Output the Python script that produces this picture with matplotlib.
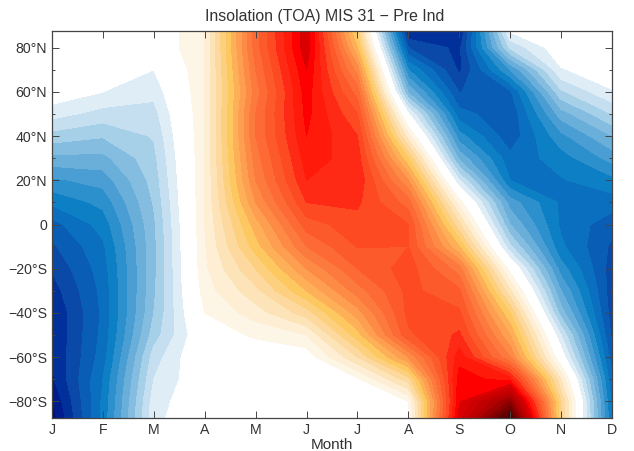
import numpy as np
import matplotlib
matplotlib.use('Agg')
import matplotlib.pyplot as plt

plt.rcParams['font.family'] = ['Liberation Sans', 'DejaVu Sans']

month_labels = ['J', 'F', 'M', 'A', 'M', 'J', 'J', 'A', 'S', 'O', 'N', 'D']
lats = [87.5, 80, 70, 60, 50, 40, 30, 20, 10, 0, -10, -20, -30, -40, -50, -60, -70, -80, -87.5]

# anomaly per month, north to south, in contour-level units
jan = [0, 0, 0, -0.2, -1.6, -3.4, -5.3, -7.2, -8.8, -10.4, -11.2, -11.9, -12.5, -13, -13, -13, -13.2, -14, -14.5]
feb = [0, 0, -0.3, -1, -2.4, -3.9, -5.3, -6.6, -7.7, -8.6, -9.2, -9.5, -9.7, -9.8, -9.7, -9.5, -9, -8.8, -8.7]
mar = [0, 0, -1, -1.7, -2.4, -2.9, -3.3, -3.6, -3.9, -4.2, -4.3, -4.3, -4.2, -4, -3.5, -2.5, -2, -1.5, -1.3]
apr = [2, 2, 2, 2, 2, 2, 2, 2, 2, 2, 1.9, 1.8, 1.5, 1, 0.2, 0.3, 0, 0, 0]
may = [11.5, 11.5, 11, 10.5, 11, 11, 10.5, 10, 9, 7.5, 6.5, 5, 3.7, 2.5, 1.2, 0, 0, 0, 0]
jun = [17.8, 17.7, 17, 16.5, 16.3, 16, 15.5, 15, 14, 12.5, 11, 9, 7, 4.5, 2, 0.3, 0, 0, 0]
jul = [5.5, 7, 9.5, 11.5, 13, 14, 14.5, 14.8, 14.2, 13.6, 13.05, 12, 10.5, 8.5, 6.5, 4, 0.8, 0, 0]
aug = [-13, -11, -8, -5.2, -0.9, 2.4, 6, 9, 11.5, 13, 13, 13.5, 13.3, 13.3, 12.8, 9, 4.5, 1, 0.5]
sep = [-13.1, -12.3, -12.2, -11.05, -9.6, -7.6, -5.3, -2, 1.5, 4.2, 7, 10.5, 12.2, 13.2, 14.2, 15.6, 16.5, 16.8, 17.5]
oct_ = [-0.9, -2.8, -7, -10.2, -10.8, -10.7, -9.7, -9, -6.5, -5, -2.8, 0.5, 3.2, 6, 8, 10, 15.5, 22, 26]
nov = [0, -0.2, -1.1, -3.2, -5.5, -7.3, -8.5, -9.1, -9.2, -9.2, -8.8, -7.5, -6, -4.5, -2, -0.2, 3, 5, 5]
dec = [0, 0, -0.3, -1.1, -3, -5, -6.6, -8.3, -9.5, -10.6, -11.2, -11.5, -11.6, -11.5, -11.2, -10.5, -9.8, -9.3, -9]

blues = ['#deedf6', '#c5dff0', '#a6d0e8', '#85bde0', '#6aaeda', '#4a9ed3', '#2c90cc', '#0d80c5',
         '#0b6fc0', '#0a5db5', '#0a49a8', '#02309a', '#001b8c', '#000a80']
reds = ['#fdf5e6', '#fdeed4', '#fde3b8', '#fdd9a0', '#fdd080', '#fdc860', '#fdb057', '#fd9e50',
        '#fd8a45', '#fd7a3e', '#fd6a35', '#fd5a2c', '#fd4a22', '#fe2a15', '#ff1a0a', '#ff0000',
        '#d80000', '#cc0000', '#c00000', '#b00000', '#9c0000', '#880000', '#740000', '#600000',
        '#500000', '#400000']

z = np.array([jan, feb, mar, apr, may, jun, jul, aug, sep, oct_, nov, dec]).T
months = np.arange(12)

# white band runs from -1 to 1, every other band is one unit wide
levels = np.concatenate([np.arange(-len(blues) - 1, 0), np.arange(1, len(reds) + 2)])
band_colors = blues[::-1] + ['#ffffff'] + reds

fig = plt.figure(figsize=(6.34, 4.51), dpi=100)
ax = fig.add_axes([52 / 634, 1 - 418 / 451, 560 / 634, 387 / 451])
ax.contourf(months, lats, z, levels=levels, colors=band_colors)

ax.set_xlim(0, 11)
ax.set_ylim(-87.5, 87.5)
ax.set_xticks(months)
ax.set_xticklabels(month_labels)
yticks = [80, 60, 40, 20, 0, -20, -40, -60, -80]
ylabels = ['80°N', '60°N', '40°N', '20°N', '0', '\u221220°S', '\u221240°S', '\u221260°S', '\u221280°S']
ax.set_yticks(yticks)
ax.set_yticklabels(ylabels)
ax.set_yticks(np.arange(-70, 80, 20), minor=True)
ax.tick_params(axis='both', which='major', direction='in', top=True, right=True, length=5,
               width=0.7, color='#444444', labelcolor='#333333', labelsize=10.2, pad=3.5)
ax.tick_params(axis='y', which='minor', direction='in', right=True, length=2.5, width=0.7, color='#444444')
for s in ax.spines.values():
    s.set_color('#444444')
    s.set_linewidth(0.9)

ax.set_xlabel('Month', fontsize=11, color='#333333', labelpad=1)
fig.text(325 / 634, 1 - 16 / 451, 'Insolation (TOA) MIS 31 \u2212 Pre Ind', fontsize=11.4,
         color='#333333', ha='center', va='center')

fig.savefig('out.png', dpi=100)
